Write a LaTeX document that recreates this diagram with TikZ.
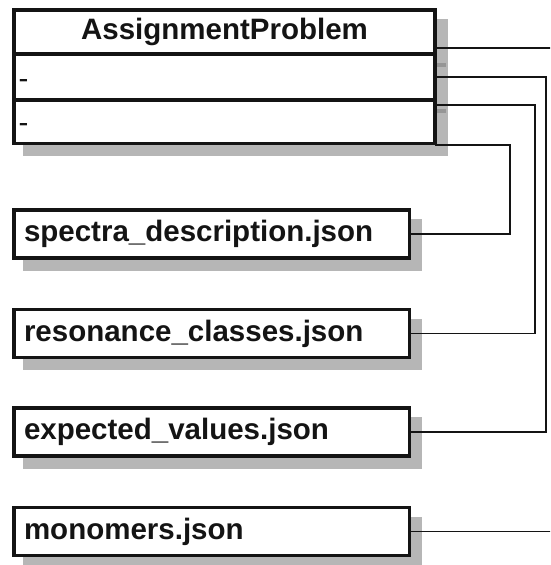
\documentclass[tikz,border=0pt]{standalone}
\usepackage{fontspec}
\setmainfont{Liberation Sans}
\usetikzlibrary{calc,backgrounds}
\definecolor{shadowgray}{RGB}{182,182,182}
\definecolor{shadowedge}{RGB}{150,150,150}
\definecolor{ink}{RGB}{20,20,20}
\begin{document}
\begin{tikzpicture}[x=1pt,y=-1pt,
  box/.style={draw=ink, fill=white, line width=3.5pt, outer sep=0pt,
    anchor=north west, inner ysep=0pt, text=ink},
  header/.style={box, inner xsep=10pt, text width=401pt, align=center,
    minimum height=44pt, text height=21.5pt, text depth=6.2pt,
    font=\bfseries\fontsize{29.5}{30}\selectfont},
  member/.style={box, inner xsep=4.5pt, text width=412pt, align=left,
    text height=22pt, text depth=0pt,
    font=\fontsize{29.5}{30}\selectfont},
  filebox/.style={box, inner xsep=10pt, text width=375.5pt, align=left,
    minimum height=48pt, text height=21.5pt, text depth=6.2pt,
    font=\bfseries\fontsize{29.5}{30}\selectfont},
  shade/.style={fill=shadowgray, draw=shadowgray, line width=3.5pt},
  conn/.style={draw=ink, line width=1.5pt}]
\useasboundingbox (0,0) rectangle (550,565);
\clip (0,0) rectangle (550,565);

% class box: name, attributes, operations
\node[header] (hdr) at (14,10) {AssignmentProblem};
\node[member, minimum height=46pt] (attr) at (14,54) {-};
\node[member, minimum height=43.5pt] (ops) at (14,100) {-};

% data files
\node[filebox] (spec) at (14,210) {spectra\_description.json};
\node[filebox] (reso) at (14,309.5) {resonance\_classes.json};
\node[filebox] (expv) at (14,408) {expected\_values.json};
\node[filebox] (mono) at (14,507.5) {monomers.json};

% drop shadows
\begin{scope}[on background layer]
  \draw[shade] ($(hdr.north west)+(11,11)$) rectangle ($(ops.south east)+(11,11)$);
  \draw[shadowedge, line width=3.5pt] ($(attr.north west)+(11,11)$) -- ($(attr.north east)+(11,11)$);
  \draw[shadowedge, line width=3.5pt] ($(ops.north west)+(11,11)$) -- ($(ops.north east)+(11,11)$);
  \foreach \f in {spec,reso,expv,mono}
    \draw[shade] ($(\f.north west)+(11,11)$) rectangle ($(\f.south east)+(11,11)$);
\end{scope}

% connectors
\draw[conn] ($(hdr.south east)+(0,-6)$) -- ++(125,0) |- (mono.east);
\draw[conn] (attr.east) -- ++(111,0) |- (expv.east);
\draw[conn] ($(ops.north east)+(0,5)$) -- ++(100,0) |- (reso.east);
\draw[conn] ($(ops.south east)+(0,1.5)$) -- ++(75,0) |- (spec.east);
\end{tikzpicture}
\end{document}
